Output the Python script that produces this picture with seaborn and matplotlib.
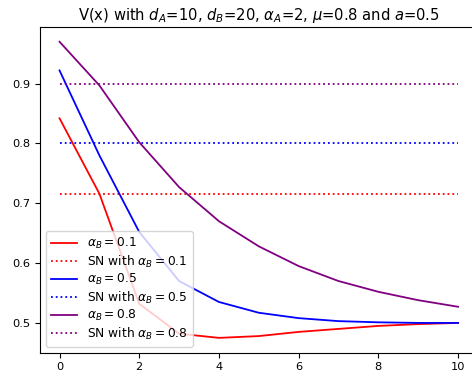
import matplotlib
matplotlib.use("Agg")
import matplotlib.pyplot as plt
import numpy as np
import pandas as pd
import seaborn as sns

# Value function V(x) for three values of alpha_B, plus the SN level of each
x = list(range(11))
alpha_b = [0.1, 0.5, 0.8]
v_01 = [0.842, 0.716, 0.532, 0.482, 0.475, 0.478, 0.485, 0.490, 0.495, 0.498, 0.500]
v_05 = [0.922, 0.780, 0.652, 0.570, 0.535, 0.517, 0.508, 0.503, 0.501, 0.500, 0.500]
v_08 = [0.970, 0.897, 0.802, 0.727, 0.670, 0.628, 0.595, 0.570, 0.552, 0.538, 0.527]
sn_levels = [0.716, 0.800, 0.900]
colors = ["red", "blue", "purple"]

plt.rcParams.update({
    "font.family": ["DejaVu Sans"],
    "xtick.labelsize": 8.2,
    "ytick.labelsize": 8.2,
    "axes.linewidth": 0.8,
})

fig = plt.figure(figsize=(4.72, 3.74), dpi=100)
ax = fig.add_axes([0.0839, 0.057, 0.9288, 0.871])

for a, v, sn, c in zip(alpha_b, [v_01, v_05, v_08], sn_levels, colors):
    df = pd.DataFrame({"x": x, "v": v, "sn": [sn] * len(x)})
    sns.lineplot(data=df, x="x", y="v", color=c, linewidth=1.3,
                 label=rf"$\alpha_B = {a}$", ax=ax)
    sns.lineplot(data=df, x="x", y="sn", color=c, linewidth=1.3,
                 linestyle=":", label=rf"SN with $\alpha_B = {a}$", ax=ax)

ax.set_xlabel("")
ax.set_ylabel("")
ax.set_xticks([0, 2, 4, 6, 8, 10])
ax.set_yticks([0.5, 0.6, 0.7, 0.8, 0.9])
ax.set_title(r"V(x) with $d_A$=10, $d_B$=20, $\alpha_A$=2, $\mu$=0.8 and $a$=0.5",
             fontsize=10.6, pad=5)
ax.legend(loc="lower left", fontsize=8.8, labelspacing=0.2, handlelength=2.2)

fig.savefig("out.png", dpi=100)
